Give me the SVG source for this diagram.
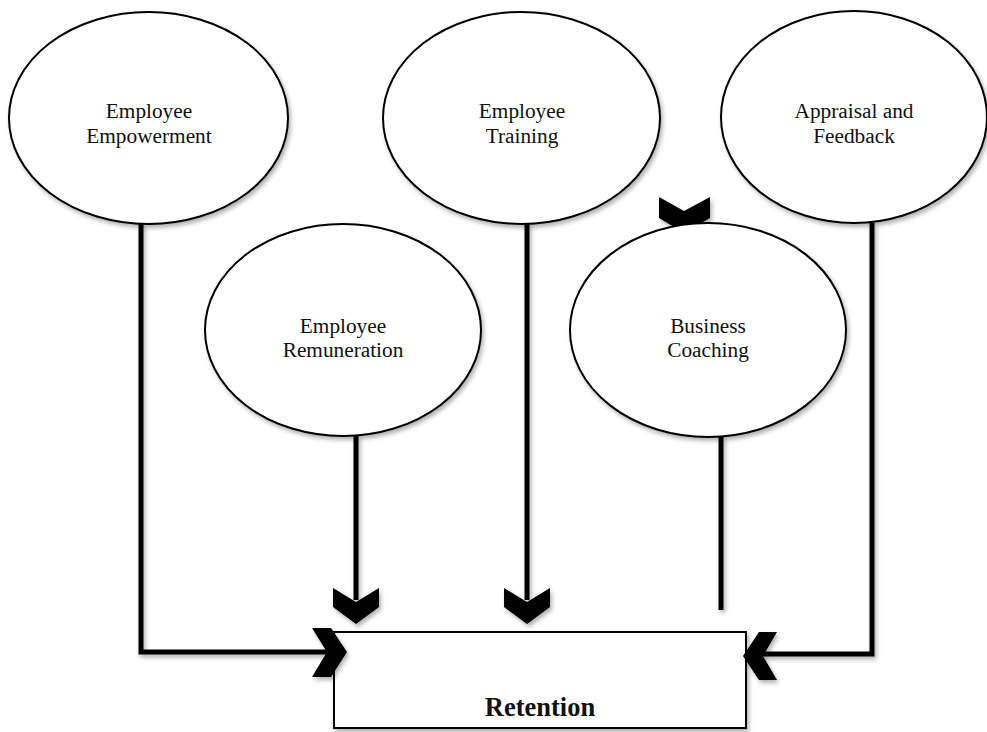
<svg xmlns="http://www.w3.org/2000/svg" width="987" height="732" viewBox="0 0 987 732">
<defs>
<filter id="sh" filterUnits="userSpaceOnUse" x="0" y="0" width="987" height="732">
<feDropShadow dx="2" dy="3" stdDeviation="2" flood-color="#000" flood-opacity="0.3"/>
</filter>
<style>
.node ellipse{fill:#fff;stroke:#000;stroke-width:2;filter:url(#sh)}
.lbl{font-family:"Liberation Serif","Times New Roman",serif;font-size:21.3px;fill:#111;text-anchor:middle}
.conn{fill:none;stroke:#000;stroke-width:5;filter:url(#sh)}
.chev{fill:#000;stroke:none;filter:url(#sh)}
</style>
</defs>
<rect width="987" height="732" fill="#fff"/>
<g id="connectors">
<polyline class="conn" points="141,223 141,652 332,652"/>
<line class="conn" x1="356" y1="436" x2="356" y2="600"/>
<line class="conn" x1="527" y1="223" x2="527" y2="600"/>
<line class="conn" x1="721" y1="436" x2="721" y2="610"/>
<polyline class="conn" points="872,223 872,654 762,654"/>
<polygon class="chev" points="659,197 684,211 710,197 710,218 684,233 659,218"/>
<polygon class="chev" points="333,588 356,602 379,588 379,607 356,624 333,607"/>
<polygon class="chev" points="504,588 527,602 550,588 550,607 527,624 504,607"/>
</g>
<g id="node-empowerment" class="node">
<ellipse cx="148.5" cy="118" rx="139.5" ry="106"/>
<text class="lbl" x="149" y="118">Employee</text>
<text class="lbl" x="149" y="143">Empowerment</text>
</g>
<g id="node-training" class="node">
<ellipse cx="521.5" cy="118" rx="138.5" ry="106"/>
<text class="lbl" x="522" y="118">Employee</text>
<text class="lbl" x="522" y="143">Training</text>
</g>
<g id="node-appraisal" class="node">
<ellipse cx="854" cy="117" rx="133" ry="106"/>
<text class="lbl" x="854" y="118">Appraisal and</text>
<text class="lbl" x="854" y="143">Feedback</text>
</g>
<g id="node-remuneration" class="node">
<ellipse cx="343" cy="330" rx="138" ry="106"/>
<text class="lbl" x="343" y="333">Employee</text>
<text class="lbl" x="343" y="357">Remuneration</text>
</g>
<g id="node-coaching" class="node">
<ellipse cx="708" cy="330" rx="138" ry="107"/>
<text class="lbl" x="708" y="333">Business</text>
<text class="lbl" x="708" y="357">Coaching</text>
</g>
<g id="node-retention">
<rect x="334" y="632" width="412" height="96" fill="#fff" stroke="#000" stroke-width="2" filter="url(#sh)"/>
<text x="540" y="716" font-family="Liberation Serif, Times New Roman, serif" font-size="26.5" font-weight="bold" text-anchor="middle" fill="#111">Retention</text>
</g>
<g id="arrowheads-side">
<polygon class="chev" points="312,628 331,628 347,652 331,677 312,677 327,652"/>
<polygon class="chev" points="777,632 759,632 743,656 759,680 777,680 763,656"/>
</g>
</svg>
